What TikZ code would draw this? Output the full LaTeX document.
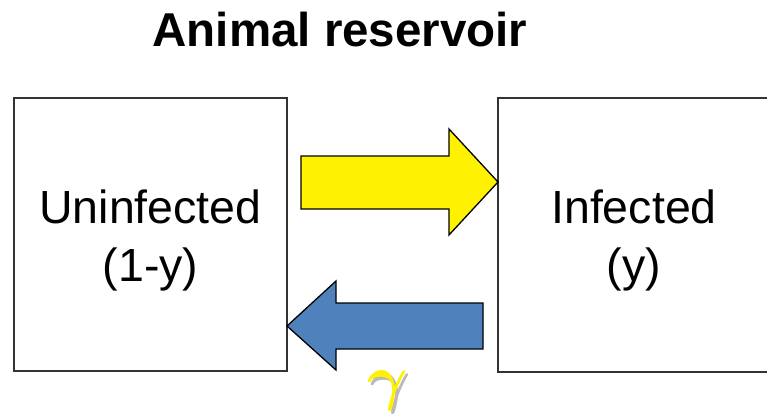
\documentclass[tikz,border=0pt]{standalone}
\usepackage{amsmath}
\usepackage{fontspec}
\usepackage{graphicx}
\setmainfont{Liberation Sans}
\definecolor{arrowblue}{HTML}{4F81BD}
\definecolor{boxline}{HTML}{333333}
\newcommand{\biggamma}[1]{\scalebox{6.2}{\textcolor{#1}{$\boldsymbol{\gamma}$}}}
\newcommand{\shadowgamma}{\makebox[0pt][l]{\kern3pt\raisebox{-2.5pt}{\biggamma{gray!55}}}\biggamma{yellow}}
\begin{document}
\begin{tikzpicture}[x=1pt,y=-1pt,
  statebox/.style={draw=boxline,line width=1.4pt,fill=white,inner sep=0pt},
  boxtext/.style={anchor=base,inner sep=0pt,font=\fontsize{46.5}{46.5}\selectfont},
  blockarrow/.style={draw=black,line width=1.3pt,line join=miter}]
\useasboundingbox (0,0) rectangle (767,418);
\begin{scope}
\clip (0,0) rectangle (767,418);
\draw[statebox] (14,98) rectangle (287,371);
\draw[statebox] (498,98) rectangle (771,372);
\end{scope}
\node[anchor=base,inner sep=0pt,font=\fontsize{47.5}{47.5}\selectfont\bfseries] (title) at (340,46) {Animal reservoir};
\node[boxtext] (u1) at (150.5,223) {Uninfected};
\node[boxtext] (u2) at (150.5,281) {(1-y)};
\node[boxtext] (i1) at (634,223) {Infected};
\node[boxtext] (i2) at (634,281) {(y)};
\filldraw[blockarrow,fill=yellow] (301,156) -- (449,156) -- (449,129) -- (498,182) -- (449,235) -- (449,209) -- (301,209) -- cycle;
\filldraw[blockarrow,fill=arrowblue] (483,303) -- (336,303) -- (336,281) -- (287,326) -- (336,370) -- (336,349) -- (483,349) -- cycle;
\node[inner sep=0pt] (gamma) at (388,392) {\shadowgamma};
\end{tikzpicture}
\end{document}
